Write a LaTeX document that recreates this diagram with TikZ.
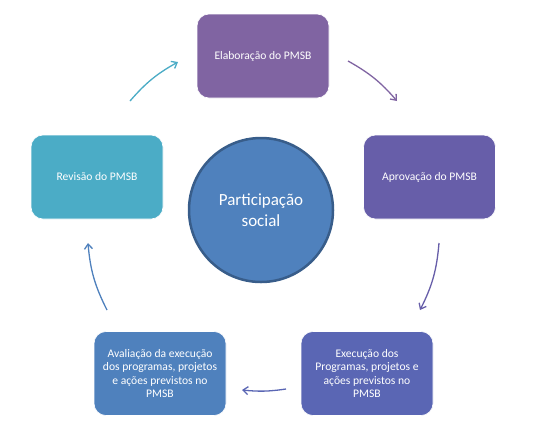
\documentclass[tikz,border=0pt]{standalone}
\usepackage{fontspec}
\setmainfont{Carlito}
\usetikzlibrary{arrows.meta}
\definecolor{celab}{HTML}{8064A2}
\definecolor{caprov}{HTML}{675EA9}
\definecolor{cexec}{HTML}{5A66B4}
\definecolor{caval}{HTML}{4F81BD}
\definecolor{crev}{HTML}{4BACC6}
\definecolor{ccirc}{HTML}{4F81BD}
\definecolor{ccircb}{HTML}{385D8A}
\tikzset{
  stagebox/.style={rounded corners=12pt, minimum width=132pt, minimum height=84pt,
    text=white, font=\fontsize{11.6}{13.4}\selectfont, align=center, inner sep=2pt, draw=white, line width=0.6pt},
  cyclearrow/.style={line width=1.3pt, -{Straight Barb[length=5pt,width=8pt]}, bend left=#1},
}
\begin{document}
\begin{tikzpicture}[x=1pt,y=-1pt]
\useasboundingbox (0,0) rectangle (556,432);
\fill[white] (0,0) rectangle (556,432);
\node[stagebox, fill=celab] (elab) at (263,56) {Elaboração do PMSB};
\node[stagebox, fill=caprov] (aprov) at (429.5,177) {Aprovação do PMSB};
\node[stagebox, fill=cexec] (exec) at (367,373.5) {Execução dos\\Programas, projetos e\\ações previstos no\\PMSB};
\node[stagebox, fill=caval] (aval) at (160,373.5) {Avaliação da execução\\dos programas, projetos\\e ações previstos no\\PMSB};
\node[stagebox, fill=crev] (rev) at (97,177) {Revisão do PMSB};
\node[circle, minimum size=144pt, fill=ccirc, draw=ccircb, line width=2.5pt, text=white,
  font=\fontsize{17}{21}\selectfont, align=center] (center) at (261,210) {Participação\\social};
\coordinate (a1s) at (348,61);  \coordinate (a1e) at (397,101);
\coordinate (a2s) at (439,243); \coordinate (a2e) at (420,310);
\coordinate (a3s) at (286,389); \coordinate (a3e) at (242,390);
\coordinate (a4s) at (107,310); \coordinate (a4e) at (88,243);
\coordinate (a5s) at (130,101); \coordinate (a5e) at (178,62);
\draw[cyclearrow=10, draw=celab] (a1s) to (a1e);
\draw[cyclearrow=11, draw=caprov] (a2s) to (a2e);
\draw[cyclearrow=7, draw=cexec] (a3s) to (a3e);
\draw[cyclearrow=11, draw=caval] (a4s) to (a4e);
\draw[cyclearrow=10, draw=crev] (a5s) to (a5e);
\end{tikzpicture}
\end{document}
